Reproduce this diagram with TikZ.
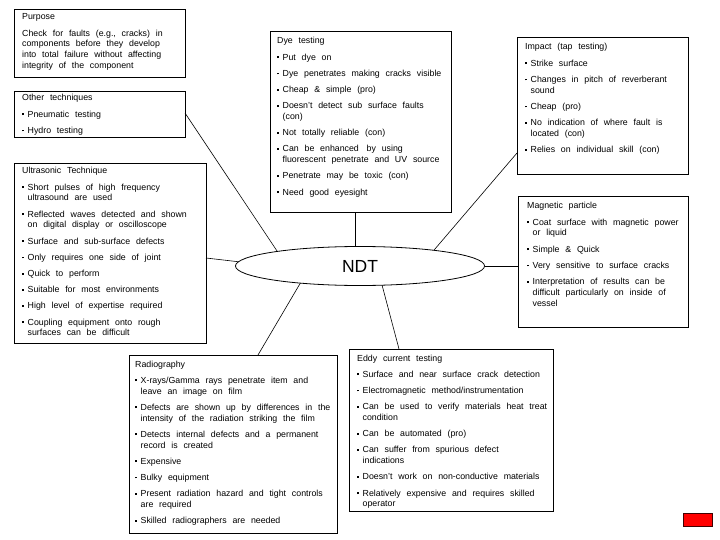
\documentclass[tikz,border=0pt]{standalone}
\usepackage{fontspec}
\setmainfont{Liberation Sans}
\usepackage{tikz}
\usetikzlibrary{positioning,shapes.geometric}

\newcommand{\ndtbody}{\setlength{\parskip}{5.4pt}\spaceskip=5.8pt\relax}
\newcommand{\ndtitem}{\par\hangindent=5.5pt\hangafter=1\noindent\makebox[5.5pt][l]{\rule[2pt]{1.8pt}{1.8pt}}}

\begin{document}
\begin{tikzpicture}[x=1pt, y=-1pt, font=\fontsize{8.8}{10.8}\selectfont,
  box/.style={draw, line width=0.8pt, anchor=north west, inner sep=0pt, outer sep=0pt},
  txt/.style={anchor=base west, inner sep=0pt, text width=230pt, align=left},
  link/.style={line width=0.6pt}]
\useasboundingbox (0,0) rectangle (720,540);
\foreach \name/\x/\y/\w/\h in {purpose/14/9/171/68, other/14/91/171/46, ultra/14/163/192/180,
  dye/270/31/181/181, impact/517/37/171/137, magnet/518/196/170/131,
  radio/129/355/208/178, eddy/349/349/204/162}
  \node[box, minimum width=\w*1pt, minimum height=\h*1pt] (\name) at (\x,\y) {};
\node[ellipse, draw, line width=0.8pt, inner sep=0pt, outer sep=0pt,
  minimum width=249pt, minimum height=39pt, font=\fontsize{17.5}{20}\selectfont] (ndt) at (360,266) {NDT};
\node[box, draw=black!75!red, fill=red, minimum width=29pt, minimum height=13pt] (redtag) at (683,513) {};
% connectors
\draw[link] ([yshift=-22pt]other.north east) -- (ndt.170);
\draw[link] ([yshift=-95pt]ultra.north east) -- (ndt.178);
\draw[link] (ndt.104) -- (ndt.104 |- dye.south);
\draw[link] ([yshift=21pt]impact.south west) -- (ndt.12);
\draw[link] (ndt.east) -- (ndt.east -| magnet.west);
\draw[link] (ndt.196) -- ([xshift=129pt]radio.north west);
\draw[link] (ndt.319) -- ([xshift=50pt]eddy.north west);
% purpose
\node[txt] (purposetxt) at (22,20) {\ndtbody Purpose\par
  Check for faults (e.g., cracks) in\newline components before they develop\newline
  into total failure without affecting\newline integrity of the component\par};
% other techniques
\node[txt] (othertxt) at (22,101) {\ndtbody Other techniques
  \ndtitem Pneumatic testing
  \ndtitem Hydro testing\par};
% ultrasonic
\node[txt] (ultratxt) at (22,174) {\ndtbody Ultrasonic Technique
  \ndtitem Short pulses of high frequency\newline ultrasound are used
  \ndtitem Reflected waves detected and shown\newline on digital display or oscilloscope
  \ndtitem Surface and sub-surface defects
  \ndtitem Only requires one side of joint
  \ndtitem Quick to perform
  \ndtitem Suitable for most environments
  \ndtitem High level of expertise required
  \ndtitem Coupling equipment onto rough\newline surfaces can be difficult\par};
% dye testing
\node[txt] (dyetxt) at (277,44) {\ndtbody Dye testing
  \ndtitem Put dye on
  \ndtitem Dye penetrates making cracks visible
  \ndtitem Cheap \& simple (pro)
  \ndtitem Doesn't detect sub surface faults\newline (con)
  \ndtitem Not totally reliable (con)
  \ndtitem Can be enhanced\kern2pt\ by using\newline fluorescent penetrate and UV source
  \ndtitem Penetrate may be toxic (con)
  \ndtitem Need good eyesight\par};
% impact
\node[txt] (impacttxt) at (525,50) {\ndtbody Impact (tap testing)
  \ndtitem Strike surface
  \ndtitem Changes in pitch of reverberant\newline sound
  \ndtitem Cheap (pro)
  \ndtitem No indication of where fault is\newline located (con)
  \ndtitem Relies on individual skill (con)\par};
% magnetic particle
\node[txt] (magnettxt) at (527,209) {\ndtbody Magnetic particle
  \ndtitem Coat surface with magnetic power\newline or liquid
  \ndtitem Simple \& Quick
  \ndtitem Very sensitive to surface cracks
  \ndtitem Interpretation of results can be\newline difficult particularly on inside of\newline vessel\par};
% radiography
\node[txt] (radiotxt) at (135,367) {\ndtbody Radiography
  \ndtitem X-rays/Gamma rays penetrate item and\newline leave an image on film
  \ndtitem Defects are shown up by differences in the\newline intensity of the radiation striking the film
  \ndtitem Detects internal defects and a permanent\newline record is created
  \ndtitem Expensive
  \ndtitem Bulky equipment
  \ndtitem Present radiation hazard and tight controls\newline are required
  \ndtitem Skilled radiographers are needed\par};
% eddy current
\node[txt] (eddytxt) at (357,361) {\ndtbody Eddy current testing
  \ndtitem Surface and near surface crack detection
  \ndtitem Electromagnetic method/instrumentation
  \ndtitem Can be used to verify materials heat treat\newline condition
  \ndtitem Can be automated (pro)
  \ndtitem Can suffer from spurious defect\newline indications
  \ndtitem Doesn't work on non-conductive materials
  \ndtitem Relatively expensive and requires skilled\newline operator\par};
\end{tikzpicture}
\end{document}
